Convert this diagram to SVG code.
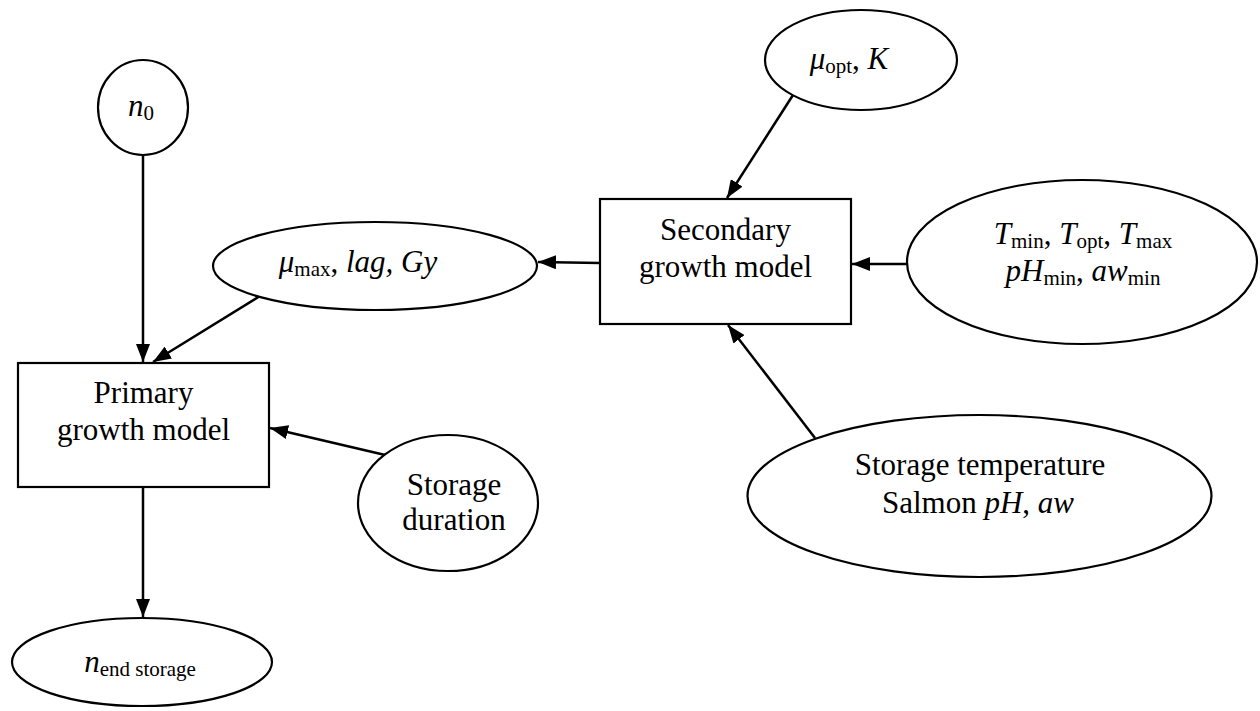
<svg xmlns="http://www.w3.org/2000/svg" width="1260" height="711" viewBox="0 0 1260 711">
  <style>
    .shape { fill: #ffffff; stroke: #000000; stroke-width: 2.2; }
    .edge { fill: none; stroke: #000000; stroke-width: 2.5; }
    .lbl { font-family: 'Liberation Serif', 'DejaVu Serif', serif; font-size: 31px; fill: #000000; text-anchor: middle; }
    .it { font-style: italic; }
    .sub { font-size: 21px; font-style: normal; }
  </style>
  <defs>
    <marker id="arrow" viewBox="0 0 18 14" refX="18" refY="7" markerWidth="18" markerHeight="14" markerUnits="userSpaceOnUse" orient="auto">
      <path d="M0,0 L18,7 L0,14 Z" fill="#000000"/>
    </marker>
  </defs>
  <rect width="1260" height="711" fill="#ffffff"/>

  <g id="connectors">
    <line class="edge" x1="143" y1="155" x2="143" y2="362" marker-end="url(#arrow)"/>
    <line class="edge" x1="260" y1="296" x2="153" y2="362" marker-end="url(#arrow)"/>
    <line class="edge" x1="600" y1="263" x2="538" y2="262" marker-end="url(#arrow)"/>
    <line class="edge" x1="793" y1="95" x2="727" y2="198" marker-end="url(#arrow)"/>
    <line class="edge" x1="907" y1="264" x2="852" y2="264" marker-end="url(#arrow)"/>
    <line class="edge" x1="815" y1="438" x2="728" y2="325" marker-end="url(#arrow)"/>
    <line class="edge" x1="398" y1="458" x2="270" y2="428" marker-end="url(#arrow)"/>
    <line class="edge" x1="143" y1="487" x2="143" y2="617" marker-end="url(#arrow)"/>
  </g>

  <g id="n0">
    <ellipse class="shape" cx="143" cy="107.5" rx="45" ry="47.5"/>
    <text class="lbl" font-family="Liberation Serif, serif" x="141" y="116"><tspan class="it">n</tspan><tspan class="sub" dy="4">0</tspan></text>
  </g>

  <g id="mu-opt-k">
    <ellipse class="shape" cx="861" cy="60" rx="96" ry="50"/>
    <text class="lbl" font-family="Liberation Serif, serif" x="849" y="69"><tspan class="it">μ</tspan><tspan class="sub" dy="4">opt</tspan><tspan dy="-4">, </tspan><tspan class="it">K</tspan></text>
  </g>

  <g id="mu-max-lag-gy">
    <ellipse class="shape" cx="375" cy="266" rx="162" ry="44"/>
    <text class="lbl" font-family="Liberation Serif, serif" x="358" y="272"><tspan class="it">μ</tspan><tspan class="sub" dy="4">max</tspan><tspan dy="-4">, </tspan><tspan class="it">lag, Gy</tspan></text>
  </g>

  <g id="secondary-model">
    <rect class="shape" x="600" y="199" width="251" height="125"/>
    <text class="lbl" font-family="Liberation Serif, serif" x="725.5" y="240">Secondary</text>
    <text class="lbl" font-family="Liberation Serif, serif" x="725.5" y="277">growth model</text>
  </g>

  <g id="cardinal-parameters">
    <ellipse class="shape" cx="1082" cy="262" rx="175" ry="82"/>
    <text class="lbl" font-family="Liberation Serif, serif" x="1083" y="244"><tspan class="it">T</tspan><tspan class="sub" dy="4">min</tspan><tspan dy="-4">, </tspan><tspan class="it">T</tspan><tspan class="sub" dy="4">opt</tspan><tspan dy="-4">, </tspan><tspan class="it">T</tspan><tspan class="sub" dy="4">max</tspan></text>
    <text class="lbl" font-family="Liberation Serif, serif" x="1083" y="281"><tspan class="it">pH</tspan><tspan class="sub" dy="4">min</tspan><tspan dy="-4">, </tspan><tspan class="it">aw</tspan><tspan class="sub" dy="4">min</tspan></text>
  </g>

  <g id="primary-model">
    <rect class="shape" x="18" y="363" width="251" height="124"/>
    <text class="lbl" font-family="Liberation Serif, serif" x="143.5" y="403">Primary</text>
    <text class="lbl" font-family="Liberation Serif, serif" x="143.5" y="440">growth model</text>
  </g>

  <g id="storage-duration">
    <ellipse class="shape" cx="448" cy="503" rx="90" ry="68"/>
    <text class="lbl" font-family="Liberation Serif, serif" x="454" y="495">Storage</text>
    <text class="lbl" font-family="Liberation Serif, serif" x="454" y="530">duration</text>
  </g>

  <g id="storage-conditions">
    <ellipse class="shape" cx="979.5" cy="496" rx="232" ry="81"/>
    <text class="lbl" font-family="Liberation Serif, serif" x="980" y="475">Storage temperature</text>
    <text class="lbl" font-family="Liberation Serif, serif" x="978" y="513">Salmon <tspan class="it">pH</tspan>, <tspan class="it">aw</tspan></text>
  </g>

  <g id="n-end-storage">
    <ellipse class="shape" cx="142" cy="662" rx="130" ry="44"/>
    <text class="lbl" font-family="Liberation Serif, serif" x="140" y="672"><tspan class="it">n</tspan><tspan class="sub" dy="4">end storage</tspan></text>
  </g>
</svg>
